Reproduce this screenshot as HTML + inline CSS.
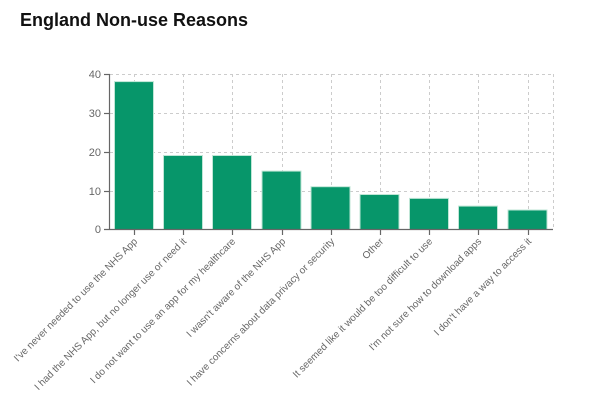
<!DOCTYPE html>
<html><head><meta charset="utf-8"><style>
body{margin:0;background:#fff;width:602px;height:406px;overflow:hidden;font-family:"Liberation Sans",sans-serif}
h1{position:absolute;left:20px;top:10px;margin:0;font-size:18px;font-weight:bold;color:#111}
svg{position:absolute;left:0;top:0}
</style></head><body>
<h1>England Non-use Reasons</h1>
<svg width="602" height="406" font-family="Liberation Sans, sans-serif">
<g stroke="#ccc" stroke-dasharray="3 3" stroke-width="1">
<line x1="110" y1="74.5" x2="553" y2="74.5"/>
<line x1="110" y1="113.5" x2="553" y2="113.5"/>
<line x1="110" y1="152.5" x2="553" y2="152.5"/>
<line x1="110" y1="191.5" x2="553" y2="191.5"/>
<line x1="134.5" y1="74" x2="134.5" y2="229"/>
<line x1="183.5" y1="74" x2="183.5" y2="229"/>
<line x1="232.5" y1="74" x2="232.5" y2="229"/>
<line x1="282.5" y1="74" x2="282.5" y2="229"/>
<line x1="331.5" y1="74" x2="331.5" y2="229"/>
<line x1="380.5" y1="74" x2="380.5" y2="229"/>
<line x1="429.5" y1="74" x2="429.5" y2="229"/>
<line x1="478.5" y1="74" x2="478.5" y2="229"/>
<line x1="528.5" y1="74" x2="528.5" y2="229"/>
<line x1="553.5" y1="74" x2="553.5" y2="229"/>
</g>
<g fill="#07966a" stroke="#bfe6d6" stroke-width="1">
<rect x="114.5" y="81.6" width="39" height="147.9"/>
<rect x="163.5" y="155.5" width="39" height="74"/>
<rect x="212.5" y="155.5" width="39" height="74"/>
<rect x="262" y="171.1" width="39" height="58.4"/>
<rect x="311" y="186.7" width="39" height="42.8"/>
<rect x="360" y="194.5" width="39" height="35"/>
<rect x="409.5" y="198.4" width="39" height="31.1"/>
<rect x="458.5" y="206.1" width="39" height="23.4"/>
<rect x="508" y="210" width="39" height="19.5"/>
</g>
<g stroke="#666" stroke-width="1.2">
<line x1="109.5" y1="74" x2="109.5" y2="230"/>
<line x1="104" y1="229.5" x2="553" y2="229.5"/>
<line x1="104" y1="74.5" x2="110" y2="74.5"/>
<line x1="104" y1="113.5" x2="110" y2="113.5"/>
<line x1="104" y1="152.5" x2="110" y2="152.5"/>
<line x1="104" y1="191.5" x2="110" y2="191.5"/>
<line x1="134.5" y1="229" x2="134.5" y2="235"/>
<line x1="183.5" y1="229" x2="183.5" y2="235"/>
<line x1="232.5" y1="229" x2="232.5" y2="235"/>
<line x1="282.5" y1="229" x2="282.5" y2="235"/>
<line x1="331.5" y1="229" x2="331.5" y2="235"/>
<line x1="380.5" y1="229" x2="380.5" y2="235"/>
<line x1="429.5" y1="229" x2="429.5" y2="235"/>
<line x1="478.5" y1="229" x2="478.5" y2="235"/>
<line x1="528.5" y1="229" x2="528.5" y2="235"/>
</g>
<g fill="#666" font-size="11" text-anchor="end">
<text x="101" y="78">40</text>
<text x="101" y="117">30</text>
<text x="101" y="156">20</text>
<text x="101" y="195">10</text>
<text x="101" y="233">0</text>
</g>
<g fill="#666" font-size="10" text-anchor="end">
<text transform="translate(138,242) rotate(-45)">I've never needed to use the NHS App</text>
<text transform="translate(187,242) rotate(-45)">I had the NHS App, but no longer use or need it</text>
<text transform="translate(236,242) rotate(-45)">I do not want to use an app for my healthcare</text>
<text transform="translate(286,242) rotate(-45)">I wasn't aware of the NHS App</text>
<text transform="translate(335,242) rotate(-45)">I have concerns about data privacy or security</text>
<text transform="translate(384,242) rotate(-45)">Other</text>
<text transform="translate(433,242) rotate(-45)">It seemed like it would be too difficult to use</text>
<text transform="translate(482,242) rotate(-45)">I'm not sure how to download apps</text>
<text transform="translate(532,242) rotate(-45)">I don't have a way to access it</text>
</g>
</svg>
</body></html>
